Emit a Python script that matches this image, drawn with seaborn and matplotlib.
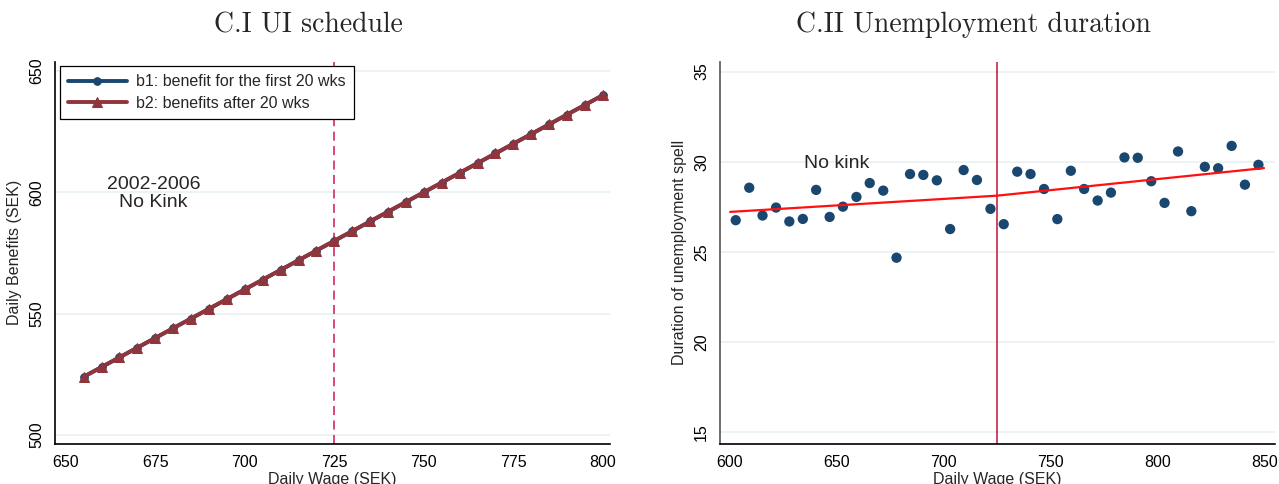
import matplotlib
matplotlib.use("Agg")
import matplotlib.pyplot as plt
import seaborn as sns
import pandas as pd

# ---------------- data ----------------
wage_left = [655, 660, 665, 670, 675, 680, 685, 690, 695, 700,
             705, 710, 715, 720, 725, 730, 735, 740, 745, 750,
             755, 760, 765, 770, 775, 780, 785, 790, 795, 800]
b1 = [524, 528, 532, 536, 540, 544, 548, 552, 556, 560,
      564, 568, 572, 576, 580, 584, 588, 592, 596, 600,
      604, 608, 612, 616, 620, 624, 628, 632, 636, 640]
b2 = [524, 528, 532, 536, 540, 544, 548, 552, 556, 560,
      564, 568, 572, 576, 580, 584, 588, 592, 596, 600,
      604, 608, 612, 616, 620, 624, 628, 632, 636, 640]
label_b1 = "b1: benefit for the first 20 wks"
label_b2 = "b2: benefits after 20 wks"

wage_right = [603.1, 609.4, 615.6, 621.9, 628.1, 634.4, 640.6, 646.9, 653.1, 659.4,
              665.6, 671.9, 678.1, 684.4, 690.6, 696.9, 703.1, 709.4, 715.6, 721.9,
              728.1, 734.4, 740.6, 746.9, 753.1, 759.4, 765.6, 771.9, 778.1, 784.4,
              790.6, 796.9, 803.1, 809.4, 815.6, 821.9, 828.1, 834.4, 840.6, 846.9]
duration = [26.76, 28.56, 27.02, 27.46, 26.69, 26.83, 28.44, 26.94, 27.51, 28.05,
            28.82, 28.40, 24.68, 29.32, 29.27, 28.97, 26.27, 29.54, 28.99, 27.39,
            26.54, 29.45, 29.32, 28.49, 26.82, 29.50, 28.49, 27.85, 28.29, 30.24,
            30.22, 28.92, 27.72, 30.57, 27.26, 29.72, 29.64, 30.88, 28.73, 29.83]
fit_x = [600.5, 725.0, 849.5]
fit_y = [27.22, 28.12, 29.65]

threshold = 725
left_xticks = [650, 675, 700, 725, 750, 775, 800]
left_yticks = [500, 550, 600, 650]
right_xticks = [600, 650, 700, 750, 800, 850]
right_yticks = [15, 20, 25, 30, 35]

title_left = "C.I UI schedule"
title_right = "C.II Unemployment duration"

# ---------------- style ----------------
sns.set_style("white")
plt.rcParams["font.family"] = ["Liberation Sans", "DejaVu Sans"]

NAVY = "#1a476f"
MAROON = "#90353b"
GRID = "#eaf2f3"

fig = plt.figure(figsize=(12.79, 4.84), dpi=100)
axL = fig.add_axes([0.043, 0.0826, 0.434, 0.790])
axR = fig.add_axes([0.563, 0.0826, 0.434, 0.790])

# ---------------- left panel ----------------
dfL = pd.DataFrame({"wage": wage_left, "b1": b1, "b2": b2})
sns.lineplot(data=dfL, x="wage", y="b1", ax=axL, color=NAVY, lw=2.8,
             marker="o", markersize=5.5, markeredgecolor=NAVY,
             label=label_b1, zorder=3)
sns.lineplot(data=dfL, x="wage", y="b2", ax=axL, color=MAROON, lw=2.8,
             marker="^", markersize=7, markeredgecolor=MAROON,
             label=label_b2, zorder=4)
axL.axvline(threshold, color="#d63a68", lw=1.3, ls=(0, (5, 3)), zorder=2)
axL.text(674.5, 599.5, "2002-2006\nNo Kink", ha="center", va="center",
         fontsize=14, linespacing=1.05)

axL.set_xlim(647, 802)
axL.set_ylim(496.3, 653.8)
axL.set_xticks(left_xticks)
axL.set_yticks(left_yticks)
axL.set_xlabel("Daily Wage (SEK)", fontsize=11.5, labelpad=1)
axL.set_ylabel("Daily Benefits (SEK)", fontsize=11.5, labelpad=5)
leg = axL.legend(loc="upper left", fontsize=11.5, frameon=True, fancybox=False,
                 edgecolor="black", framealpha=1, handlelength=3.7,
                 handletextpad=0.6, labelspacing=0.4, borderpad=0.5,
                 borderaxespad=0.3)
leg.get_frame().set_linewidth(0.9)

# ---------------- right panel ----------------
dfR = pd.DataFrame({"wage": wage_right, "duration": duration})
dfF = pd.DataFrame({"x": fit_x, "y": fit_y})
sns.scatterplot(data=dfR, x="wage", y="duration", ax=axR, color=NAVY,
                s=55, edgecolor="none", zorder=3)
sns.lineplot(data=dfF, x="x", y="y", ax=axR, color="#ff1010", lw=1.6, zorder=4)
axR.axvline(threshold, color="#c0143c", lw=1.1, zorder=2)
axR.text(650.4, 29.9, "No kink", ha="center", va="center", fontsize=14)

axR.set_xlim(595.8, 854.7)
axR.set_ylim(14.35, 35.55)
axR.set_xticks(right_xticks)
axR.set_yticks(right_yticks)
axR.set_xlabel("Daily Wage (SEK)", fontsize=11.5, labelpad=1)
axR.set_ylabel("Duration of unemployment spell", fontsize=11.5, labelpad=5)

for ax, lcol in ((axL, "black"), (axR, "#555555")):
    ax.grid(axis="y", color=GRID, lw=1.3)
    ax.grid(axis="x", visible=False)
    ax.set_axisbelow(True)
    for s in ("top", "right"):
        ax.spines[s].set_visible(False)
    ax.spines["left"].set_color(lcol)
    ax.spines["bottom"].set_color("black")
    ax.spines["left"].set_linewidth(1.2)
    ax.spines["bottom"].set_linewidth(1.2)
    ax.tick_params(axis="both", direction="out", length=5, width=1,
                   labelsize=11.5, colors="black")
    ax.tick_params(axis="x", pad=3)
    ax.tick_params(axis="y", pad=3)
    for t in ax.get_yticklabels():
        t.set_rotation(90)
        t.set_va("center")

fig.text(308 / 1279, 1 - 25 / 484, title_left, ha="center", va="center",
         fontsize=20, family="cmr10")
fig.text(973 / 1279, 1 - 25 / 484, title_right, ha="center", va="center",
         fontsize=20, family="cmr10")

fig.savefig("out.png", dpi=100)
